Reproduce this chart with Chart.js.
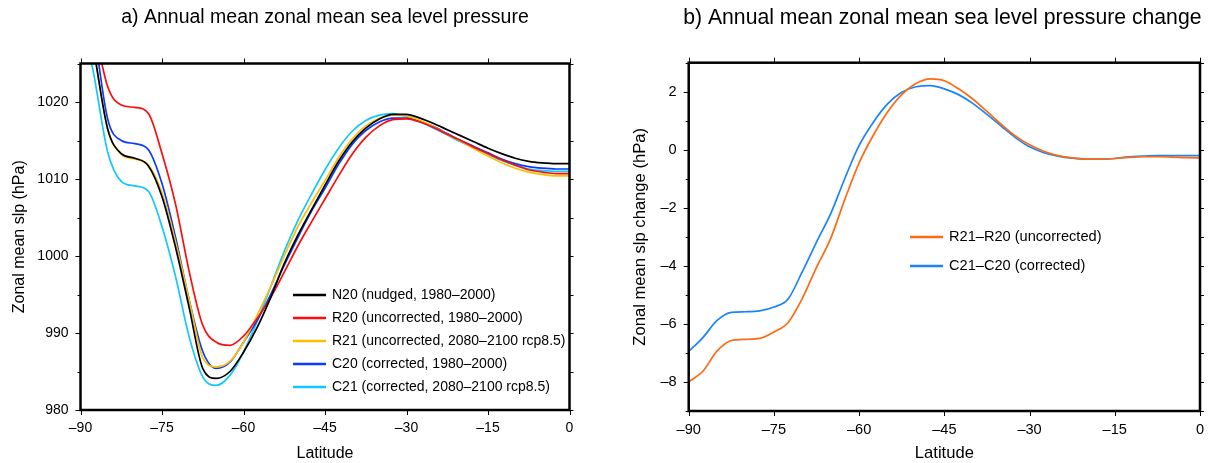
<!DOCTYPE html>
<html>
<head>
<meta charset="utf-8">
<script src="https://cdn.jsdelivr.net/npm/chart.js@4.4.1/dist/chart.umd.min.js"></script>
<style>
  body { margin: 0; background: #fff; }
  #wrap { position: relative; width: 1209px; height: 463px; }
  canvas { position: absolute; top: 0; }
</style>
</head>
<body>
<div id="wrap">
  <canvas id="slp" width="600" height="463" style="left:0"></canvas>
  <canvas id="dslp" width="609" height="463" style="left:600px"></canvas>
</div>
<script>
// latitude grid (deg)
var lats = [-90, -87.5, -85, -82.5, -80, -77.5, -75, -72.5, -70, -67.5, -65, -62.5,
            -60, -57.5, -55, -52.5, -50, -47.5, -45, -42.5, -40, -37.5, -35, -32.5,
            -30, -27.5, -25, -22.5, -20, -17.5, -15, -12.5, -10, -7.5, -5, -2.5, 0];

// zonal mean slp (hPa)
var n20 = [1036, 1026.5, 1016.5, 1013.3, 1012.7, 1011.7, 1007.7, 1001.1, 993.3, 985.4, 984.1, 985.0,
           987.5, 990.7, 994.6, 999.0, 1002.7, 1006.0, 1009.2, 1012.3, 1014.8, 1016.6, 1017.8, 1018.4,
           1018.4, 1017.9, 1017.2, 1016.4, 1015.6, 1014.8, 1014.0, 1013.3, 1012.7, 1012.3, 1012.1, 1012.0, 1012.0];
var r20 = [1040, 1030, 1022, 1019.6, 1019.3, 1018.5, 1013.3, 1006.7, 998.0, 991.0, 988.8, 988.4,
           989.6, 991.9, 994.6, 997.9, 1001.3, 1004.4, 1007.4, 1010.4, 1013.2, 1015.4, 1016.9, 1017.7,
           1017.8, 1017.4, 1016.7, 1015.8, 1015.0, 1014.1, 1013.3, 1012.5, 1011.8, 1011.2, 1010.9, 1010.7, 1010.7];
var r21 = [1036, 1026.5, 1016.5, 1013.2, 1012.6, 1011.8, 1008.2, 1001.8, 994.3, 986.8, 985.6, 986.3,
           988.8, 992.3, 996.0, 1000.0, 1003.8, 1006.9, 1009.8, 1012.8, 1015.2, 1016.9, 1017.9, 1018.3,
           1018.2, 1017.6, 1016.8, 1015.8, 1014.9, 1013.9, 1013.0, 1012.1, 1011.4, 1010.9, 1010.6, 1010.4, 1010.4];
var c20 = [1038, 1029, 1017.8, 1015.0, 1014.6, 1013.8, 1009.4, 1002.4, 994.3, 987.6, 985.4, 986.2,
           988.8, 991.6, 995.0, 998.8, 1002.4, 1005.8, 1008.8, 1011.9, 1014.5, 1016.3, 1017.4, 1017.9,
           1017.9, 1017.5, 1016.8, 1015.9, 1015.0, 1014.2, 1013.4, 1012.6, 1012.0, 1011.6, 1011.4, 1011.3, 1011.3];
var c21 = [1032, 1023.4, 1013.5, 1009.7, 1009.1, 1008.4, 1003.8, 997.3, 989.5, 984.3, 983.2, 984.5,
           987.5, 991.5, 996.0, 1000.6, 1004.6, 1008.0, 1011.2, 1014.0, 1016.2, 1017.6, 1018.3, 1018.5,
           1018.1, 1017.4, 1016.6, 1015.7, 1014.8, 1014.0, 1013.2, 1012.4, 1011.8, 1011.3, 1011.1, 1011.0, 1011.0];

// slp change (hPa)
var dUncorr = [-8.0, -7.63, -6.93, -6.57, -6.53, -6.5, -6.28, -5.95, -5.12, -4.05, -3.05, -1.7,
               -0.45, 0.5, 1.3, 1.9, 2.28, 2.44, 2.38, 2.1, 1.75, 1.32, 0.88, 0.48,
               0.17, -0.05, -0.2, -0.28, -0.32, -0.32, -0.3, -0.26, -0.24, -0.24, -0.25, -0.27, -0.28];
var dCorr = [-6.95, -6.47, -5.88, -5.6, -5.58, -5.55, -5.42, -5.14, -4.2, -3.18, -2.2, -0.98,
             0.15, 0.95, 1.58, 1.98, 2.17, 2.21, 2.1, 1.9, 1.6, 1.22, 0.82, 0.42,
             0.1, -0.1, -0.22, -0.29, -0.32, -0.32, -0.3, -0.24, -0.22, -0.2, -0.2, -0.2, -0.2];

var latTicks = [-90, -75, -60, -45, -30, -15, 0];
var slpTicks = [980, 990, 1000, 1010, 1020];
var slpMinor = [985, 995, 1005, 1015, 1025];
var dTicks = [-8, -6, -4, -2, 0, 2];
var dMinor = [-9, -7, -5, -3, -1, 1, 3];

var FONT = "'Liberation Sans', Arial, Helvetica, sans-serif";
Chart.defaults.font.family = FONT;
Chart.defaults.color = '#000';

function dash(v) {
  return v < 0 ? '\u2013' + Math.abs(v) : '' + v;
}

function pts(ys) {
  return lats.map(function (x, i) { return { x: x, y: ys[i] }; });
}

function line(label, ys, color) {
  return {
    label: label, data: pts(ys), borderColor: color, backgroundColor: color,
    borderWidth: 1.7, pointRadius: 0, fill: false, cubicInterpolationMode: 'monotone'
  };
}

// frame, ticks on all four sides, panel title and the in-plot legend
var decor = {
  id: 'decor',
  afterDraw: function (chart) {
    var o = chart.options.plugins.decor;
    var ctx = chart.ctx, a = chart.chartArea;
    var xs = chart.scales.x, ys = chart.scales.y;
    ctx.save();
    ctx.strokeStyle = '#000';
    ctx.lineWidth = 1;
    ctx.beginPath();
    o.xTicks.forEach(function (v) {
      var p = Math.round(xs.getPixelForValue(v)) + 0.5;
      ctx.moveTo(p, a.bottom); ctx.lineTo(p, a.bottom + 5);
      ctx.moveTo(p, a.top); ctx.lineTo(p, a.top - 5);
    });
    o.yTicks.concat(o.yMinor).forEach(function (v) {
      var p = Math.round(ys.getPixelForValue(v)) + 0.5;
      var major = o.yTicks.indexOf(v) >= 0;
      ctx.moveTo(a.left, p); ctx.lineTo(a.left - (major ? 5 : 3), p);
    });
    o.yRight.forEach(function (v) {
      var p = Math.round(ys.getPixelForValue(v)) + 0.5;
      ctx.moveTo(a.right, p); ctx.lineTo(a.right + 4, p);
    });
    ctx.stroke();

    ctx.lineWidth = 2.5;
    ctx.strokeRect(a.left, a.top, a.right - a.left, a.bottom - a.top);

    ctx.fillStyle = '#000';
    ctx.font = o.titleSize + 'px ' + FONT;
    ctx.textAlign = 'center';
    ctx.textBaseline = 'middle';
    ctx.fillText(o.title, (a.left + a.right) / 2 + o.titleShift, 18);

    ctx.font = o.legendSize + 'px ' + FONT;
    ctx.textAlign = 'left';
    chart.data.datasets.forEach(function (d, i) {
      var x = a.left + o.legendX, y = a.top + o.legendY + i * o.legendStep;
      ctx.strokeStyle = d.borderColor;
      ctx.lineWidth = 2.5;
      ctx.beginPath();
      ctx.moveTo(x, y); ctx.lineTo(x + 33, y);
      ctx.stroke();
      ctx.fillText(d.label, x + 39, y);
    });
    ctx.restore();
  }
};

function axes(yMin, yMax, yTicks, yWidth, xHeight, yTitle, fs, yTitlePad) {
  return {
    x: {
      type: 'linear', min: -90, max: 0,
      afterBuildTicks: function (s) { s.ticks = latTicks.map(function (v) { return { value: v }; }); },
      afterFit: function (s) { s.height = xHeight; s.paddingLeft = 0; s.paddingRight = 0; },
      grid: { display: false, drawTicks: false }, border: { display: false },
      ticks: { callback: dash, font: { size: fs }, padding: 10, maxRotation: 0, autoSkip: false },
      title: { display: true, text: 'Latitude', font: { size: fs + 2 }, padding: { top: 0, bottom: 0 } }
    },
    y: {
      type: 'linear', min: yMin, max: yMax,
      afterBuildTicks: function (s) { s.ticks = yTicks.map(function (v) { return { value: v }; }); },
      afterFit: function (s) { s.width = yWidth; },
      grid: { display: false, drawTicks: false }, border: { display: false },
      ticks: { callback: dash, font: { size: fs }, padding: 12, autoSkip: false },
      title: { display: true, text: yTitle, font: { size: fs + 2 }, padding: { top: yTitlePad, bottom: 0 } }
    }
  };
}

new Chart(document.getElementById('slp'), {
  type: 'line',
  data: {
    datasets: [
      line('N20 (nudged, 1980\u20132000)', n20, '#000000'),
      line('R20 (uncorrected, 1980\u20132000)', r20, '#ff0a0a'),
      line('R21 (uncorrected, 2080\u20132100 rcp8.5)', r21, '#ffbf00'),
      line('C20 (corrected, 1980\u20132000)', c20, '#0a3cff'),
      line('C21 (corrected, 2080\u20132100 rcp8.5)', c21, '#10c8ff')
    ]
  },
  options: {
    responsive: false, animation: false, events: [],
    layout: { padding: { left: 0, top: 63.5, right: 30.5, bottom: 0 } },
    scales: axes(980, 1025, slpTicks, 80.5, 53, 'Zonal mean slp (hPa)', 14, 10),
    plugins: {
      legend: { display: false }, tooltip: { enabled: false },
      decor: {
        title: 'a) Annual mean zonal mean sea level pressure', titleSize: 19.5, titleShift: 0,
        xTicks: latTicks, yTicks: slpTicks, yMinor: slpMinor,
        yRight: slpTicks.concat(slpMinor),
        legendSize: 14, legendX: 212.5, legendY: 231.5, legendStep: 23
      }
    }
  },
  plugins: [decor]
});

new Chart(document.getElementById('dslp'), {
  type: 'line',
  data: {
    datasets: [
      line('R21\u2013R20 (uncorrected)', dUncorr, '#ff6a10'),
      line('C21\u2013C20 (corrected)', dCorr, '#1a84ff')
    ]
  },
  options: {
    responsive: false, animation: false, events: [],
    layout: { padding: { left: 0, top: 62.7, right: 9, bottom: 0 } },
    scales: axes(-9, 3, dTicks, 88.7, 52, 'Zonal mean slp change (hPa)', 14.6, 30),
    plugins: {
      legend: { display: false }, tooltip: { enabled: false },
      decor: {
        title: 'b) Annual mean zonal mean sea level pressure change', titleSize: 21.2, titleShift: -2,
        xTicks: latTicks, yTicks: dTicks, yMinor: dMinor,
        yRight: dTicks.concat(dMinor),
        legendSize: 14.6, legendX: 221.3, legendY: 174.3, legendStep: 29
      }
    }
  },
  plugins: [decor]
});
</script>
</body>
</html>
